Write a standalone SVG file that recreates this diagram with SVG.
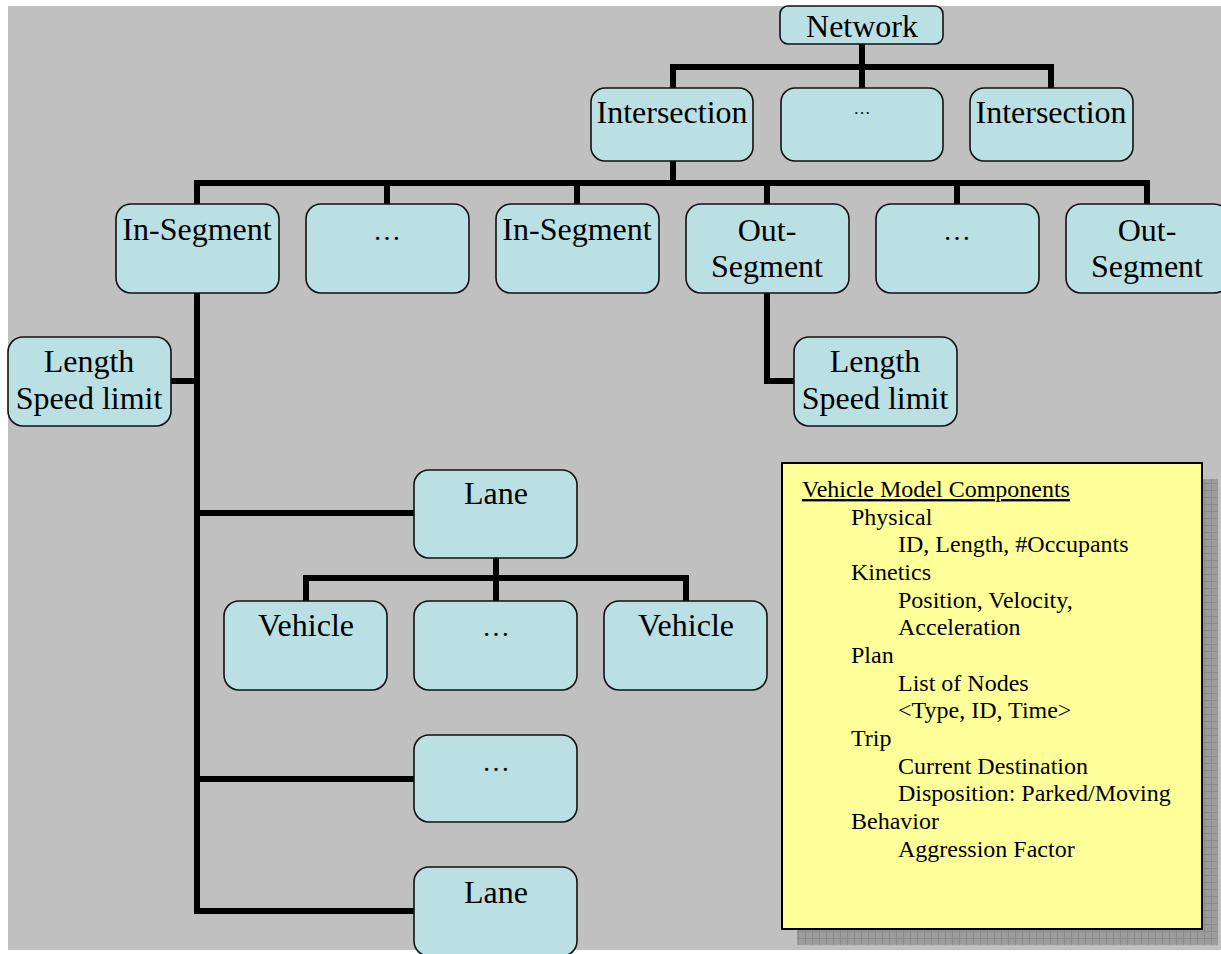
<svg xmlns="http://www.w3.org/2000/svg" width="1221" height="954" viewBox="0 0 1221 954">
<defs>
<style>
.n rect{fill:#BAE0E3;stroke:#111;stroke-width:1.6}
.t{font-family:"Liberation Serif","Times New Roman",serif;font-size:32px;fill:#000;text-anchor:middle}
.e{font-family:"Liberation Serif","Times New Roman",serif;font-size:28px;fill:#000;text-anchor:middle}
.y{font-family:"Liberation Serif","Times New Roman",serif;font-size:24px;fill:#000}
#conn path{fill:none;stroke:#000;stroke-width:6;stroke-linejoin:miter;stroke-linecap:square}
</style>
<pattern id="grid" width="7" height="7" patternUnits="userSpaceOnUse">
<rect width="7" height="7" fill="#9c9c9c"/>
<path d="M0 0.5H7M0.5 0V7" stroke="#8a8a8a" stroke-width="1"/>
</pattern>
</defs>
<rect x="8" y="6" width="1213" height="944" fill="#C0C0C0"/>

<g id="conn">
<path d="M862 44V67M673 67H1051M673 67V88M862 67V88M1051 67V88"/>
<path d="M673 161V183M197 183H1147M197 183V204M387 183V204M577 183V204M767 183V204M957 183V204M1147 183V204"/>
<path d="M197 293V911H414M171 381H197M197 513H414M197 779H414"/>
<path d="M767 293V381H794"/>
<path d="M496 558V578M306 578H686M306 578V601M496 578V601M686 578V601"/>
</g>

<g id="network" class="n"><rect x="780" y="6" width="163" height="38" rx="8"/><text class="t" x="862" y="37">Network</text></g>
<g id="intersection1" class="n"><rect x="591" y="88" width="162" height="73" rx="14"/><text class="t" x="672" y="123">Intersection</text></g>
<g id="intersection-more" class="n"><rect x="781" y="88" width="162" height="73" rx="14"/><text class="t" x="862" y="114" style="font-size:17px">…</text></g>
<g id="intersection2" class="n"><rect x="970" y="88" width="163" height="73" rx="14"/><text class="t" x="1051" y="123">Intersection</text></g>

<g id="in-segment1" class="n"><rect x="116" y="204" width="163" height="89" rx="15"/><text class="t" x="197" y="240">In-Segment</text></g>
<g id="in-segment-more" class="n"><rect x="306" y="204" width="163" height="89" rx="15"/><text class="e" x="387" y="240">…</text></g>
<g id="in-segment2" class="n"><rect x="496" y="204" width="163" height="89" rx="15"/><text class="t" x="577" y="240">In-Segment</text></g>
<g id="out-segment1" class="n"><rect x="686" y="204" width="163" height="89" rx="15"/><text class="t" x="767" y="241">Out-</text><text class="t" x="767" y="277">Segment</text></g>
<g id="out-segment-more" class="n"><rect x="876" y="204" width="163" height="89" rx="15"/><text class="e" x="957" y="240">…</text></g>
<g id="out-segment2" class="n"><rect x="1066" y="204" width="163" height="89" rx="15"/><text class="t" x="1147" y="241">Out-</text><text class="t" x="1147" y="277">Segment</text></g>

<g id="in-attrs" class="n"><rect x="8" y="337" width="163" height="89" rx="15"/><text class="t" x="89" y="372">Length</text><text class="t" x="89" y="409">Speed limit</text></g>
<g id="out-attrs" class="n"><rect x="794" y="337" width="163" height="89" rx="15"/><text class="t" x="875" y="372">Length</text><text class="t" x="875" y="409">Speed limit</text></g>

<g id="lane1" class="n"><rect x="414" y="470" width="163" height="88" rx="15"/><text class="t" x="496" y="504">Lane</text></g>
<g id="vehicle1" class="n"><rect x="224" y="601" width="163" height="89" rx="15"/><text class="t" x="306" y="636">Vehicle</text></g>
<g id="vehicle-more" class="n"><rect x="414" y="601" width="163" height="89" rx="15"/><text class="e" x="496" y="636">…</text></g>
<g id="vehicle2" class="n"><rect x="604" y="601" width="163" height="89" rx="15"/><text class="t" x="686" y="636">Vehicle</text></g>
<g id="lane-more" class="n"><rect x="414" y="735" width="163" height="87" rx="15"/><text class="e" x="496" y="771">…</text></g>
<g id="lane2" class="n"><rect x="414" y="867" width="163" height="89" rx="15"/><text class="t" x="496" y="903">Lane</text></g>

<g id="vehicle-model">
<rect x="797" y="479" width="421" height="466" fill="url(#grid)"/>
<rect x="782" y="463" width="420" height="466" fill="#FFFF99" stroke="#000" stroke-width="2"/>
<text class="y" x="802" y="497" text-decoration="underline">Vehicle Model Components</text>
<text class="y" x="851" y="525">Physical</text>
<text class="y" x="898" y="552">ID, Length, #Occupants</text>
<text class="y" x="851" y="580">Kinetics</text>
<text class="y" x="898" y="608">Position, Velocity,</text>
<text class="y" x="898" y="635">Acceleration</text>
<text class="y" x="851" y="663">Plan</text>
<text class="y" x="898" y="691">List of Nodes</text>
<text class="y" x="898" y="718">&lt;Type, ID, Time&gt;</text>
<text class="y" x="851" y="746">Trip</text>
<text class="y" x="898" y="774">Current Destination</text>
<text class="y" x="898" y="801">Disposition: Parked/Moving</text>
<text class="y" x="851" y="829">Behavior</text>
<text class="y" x="898" y="857">Aggression Factor</text>
</g>
</svg>
